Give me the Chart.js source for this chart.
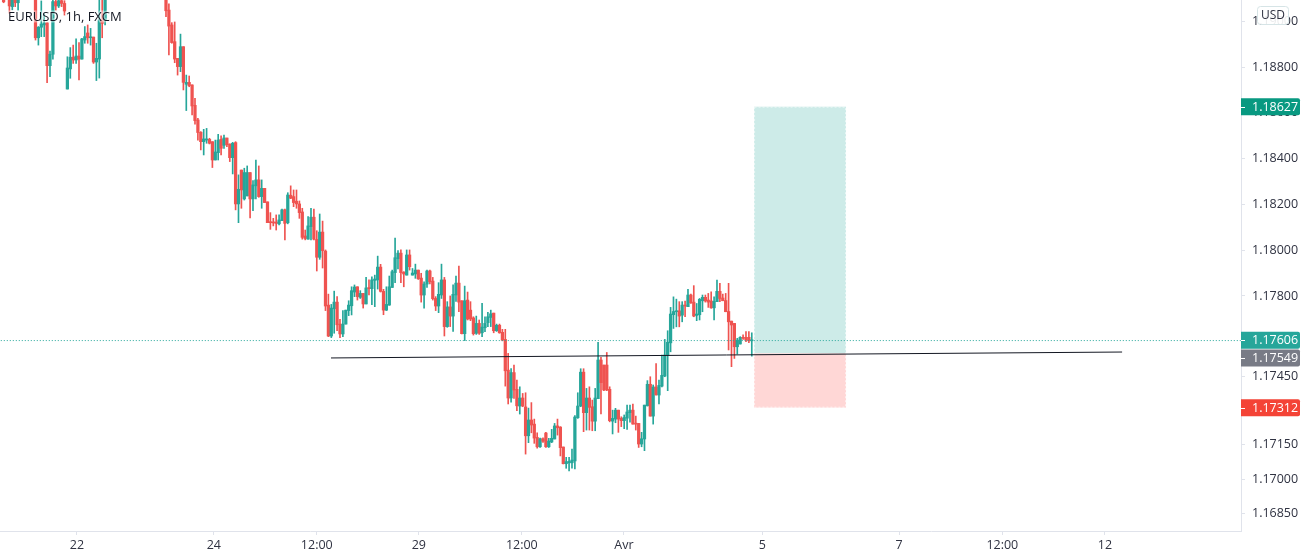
<!DOCTYPE html>
<html>
<head>
<meta charset="utf-8">
<title>EURUSD, 1h, FXCM</title>
<script src="https://cdn.jsdelivr.net/npm/chart.js@4/dist/chart.umd.min.js"></script>
<style>
  html, body { margin: 0; padding: 0; background: #fff; }
  canvas { display: block; }
</style>
</head>
<body>
<canvas id="chart" width="1305" height="559"></canvas>
<script>
// Hourly candles. null = bar is above the visible range
const opens = [
  1.19100,null,1.19110,1.19064,1.19100,1.19081,null,null,null,null,null,
  1.19110,1.18928,1.18974,1.18984,1.18993,1.18806,1.18856,1.19086,1.19067,1.19090,1.19078,
  1.18704,1.18792,1.18843,1.18831,1.18848,1.18835,1.18918,1.18949,1.18928,1.18931,1.18822,1.18835,1.19006,1.19006,
  null,null,null,null,null,null,null,null,null,null,null,null,null,null,null,null,null,null,null,null,
  1.19093,1.19049,1.18984,1.18911,1.18838,1.18802,1.18889,1.18725,1.18733,1.18722,
  1.18633,1.18569,1.18515,1.18474,1.18481,1.18484,1.18474,1.18394,1.18426,1.18484,
  1.18458,1.18490,1.18464,1.18404,1.18470,1.18202,1.18350,1.18224,1.18237,1.18339,
  1.18224,1.18281,1.18307,1.18234,1.18270,1.18211,1.18123,1.18123,1.18123,1.18115,
  1.18129,1.18176,1.18120,1.18240,1.18234,1.18214,1.18202,1.18167,1.18062,1.18048,
  1.18103,1.18144,1.18047,1.17969,1.18079,1.17996,1.17760,1.17625,1.17744,1.17773,
  1.17677,1.17634,1.17677,1.17736,1.17757,1.17817,1.17840,1.17794,1.17811,1.17765,
  1.17835,1.17832,1.17868,1.17870,1.17926,1.17820,1.17738,1.17760,1.17837,1.17902,
  1.17963,1.17987,1.17904,1.17891,1.17979,1.17891,1.17896,1.17913,1.17878,1.17804,
  1.17852,1.17909,1.17865,1.17789,1.17756,1.17804,1.17870,1.17666,1.17752,1.17712,
  1.17804,1.17856,1.17779,1.17635,1.17782,1.17738,1.17704,1.17637,1.17680,1.17639,
  1.17661,1.17683,1.17706,1.17725,1.17648,1.17672,1.17641,1.17610,1.17476,1.17354,
  1.17465,1.17392,1.17319,1.17354,1.17315,1.17189,1.17258,1.17240,1.17182,1.17141,
  1.17176,1.17201,1.17141,1.17162,1.17175,1.17232,1.17227,1.17140,1.17067,1.17071,
  1.17071,1.17079,1.17268,1.17319,1.17467,1.17290,1.17354,1.17316,1.17253,1.17351,
  1.17520,1.17498,1.17498,1.17392,1.17253,1.17262,1.17301,1.17265,1.17255,1.17266,
  1.17290,1.17301,1.17243,1.17243,1.17153,1.17175,1.17320,1.17414,1.17275,1.17402,
  1.17367,1.17406,1.17450,1.17542,1.17595,1.17718,1.17731,1.17735,1.17716,1.17760,
  1.17753,1.17804,1.17773,1.17715,1.17718,1.17779,1.17794,1.17782,1.17778,1.17748,
  1.17775,1.17820,1.17791,1.17780,1.17732,1.17690,1.17680,1.17578,1.17590,1.17619,
  1.17619,1.17619,1.17604
];
const closes = [
  1.19085,null,1.19067,1.19100,1.19081,1.19100,null,null,null,null,null,
  1.18928,1.18974,1.18988,1.18993,1.18806,1.18856,1.19086,1.19067,1.19090,1.19078,1.19045,
  1.18796,1.18843,1.18831,1.18848,1.18835,1.18923,1.18933,1.18928,1.18931,1.18822,1.18838,1.19006,1.18991,1.19100,
  null,null,null,null,null,null,null,null,null,null,null,null,null,null,null,null,null,null,null,null,
  1.19046,1.18979,1.18907,1.18835,1.18802,1.18889,1.18733,1.18733,1.18719,1.18630,
  1.18566,1.18514,1.18474,1.18486,1.18486,1.18467,1.18394,1.18429,1.18481,1.18445,
  1.18490,1.18461,1.18404,1.18467,1.18202,1.18266,1.18263,1.18339,1.18339,1.18224,
  1.18285,1.18307,1.18234,1.18270,1.18208,1.18120,1.18120,1.18119,1.18117,1.18132,
  1.18176,1.18117,1.18241,1.18227,1.18208,1.18202,1.18164,1.18056,1.18051,1.18106,
  1.18144,1.18048,1.17969,1.18079,1.17998,1.17756,1.17625,1.17747,1.17773,1.17674,
  1.17634,1.17677,1.17738,1.17760,1.17823,1.17839,1.17797,1.17811,1.17765,1.17835,
  1.17832,1.17870,1.17874,1.17926,1.17820,1.17738,1.17763,1.17840,1.17906,1.17967,
  1.17987,1.17902,1.17896,1.17979,1.17928,1.17900,1.17913,1.17875,1.17804,1.17852,
  1.17909,1.17862,1.17788,1.17756,1.17807,1.17870,1.17666,1.17752,1.17712,1.17807,
  1.17856,1.17773,1.17635,1.17779,1.17699,1.17699,1.17635,1.17680,1.17637,1.17664,
  1.17680,1.17709,1.17722,1.17648,1.17672,1.17639,1.17607,1.17473,1.17354,1.17465,
  1.17389,1.17320,1.17354,1.17319,1.17189,1.17258,1.17236,1.17179,1.17141,1.17176,
  1.17165,1.17141,1.17166,1.17178,1.17232,1.17224,1.17137,1.17067,1.17076,1.17077,
  1.17083,1.17271,1.17319,1.17467,1.17290,1.17354,1.17313,1.17253,1.17354,1.17520,
  1.17421,1.17389,1.17389,1.17255,1.17265,1.17301,1.17262,1.17255,1.17269,1.17293,
  1.17301,1.17240,1.17240,1.17153,1.17176,1.17323,1.17414,1.17275,1.17402,1.17368,
  1.17409,1.17453,1.17542,1.17598,1.17721,1.17732,1.17732,1.17712,1.17760,1.17756,
  1.17804,1.17770,1.17712,1.17721,1.17785,1.17794,1.17778,1.17773,1.17748,1.17776,
  1.17820,1.17789,1.17779,1.17731,1.17687,1.17673,1.17578,1.17607,1.17619,1.17615,
  1.17607,1.17604,1.17606
];
const highs = [
  1.19110,null,1.19120,1.19110,1.19110,1.19110,null,null,null,null,null,
  1.19120,1.18977,1.19089,1.19032,1.18993,1.18870,1.19100,1.19100,1.19105,1.19105,1.19090,
  1.18845,1.18885,1.18896,1.18923,1.18907,1.18926,1.18977,1.18984,1.18969,1.18931,1.18904,1.19093,1.19100,1.19110,
  null,null,null,null,null,null,null,null,null,null,null,null,null,null,null,null,null,null,null,null,
  1.19110,1.19076,1.18994,1.18997,1.18838,1.18944,1.18889,1.18765,1.18761,1.18722,
  1.18663,1.18576,1.18518,1.18528,1.18532,1.18489,1.18474,1.18481,1.18506,1.18499,
  1.18503,1.18490,1.18464,1.18471,1.18474,1.18329,1.18350,1.18358,1.18368,1.18339,
  1.18304,1.18394,1.18368,1.18307,1.18270,1.18211,1.18164,1.18139,1.18154,1.18154,
  1.18179,1.18179,1.18251,1.18281,1.18263,1.18263,1.18215,1.18183,1.18088,1.18147,
  1.18183,1.18179,1.18085,1.18158,1.18127,1.18001,1.17808,1.17763,1.17821,1.17797,
  1.17698,1.17736,1.17738,1.17779,1.17840,1.17848,1.17840,1.17823,1.17811,1.17881,
  1.17870,1.17884,1.17891,1.17974,1.17938,1.17829,1.17840,1.17887,1.17913,1.18053,
  1.17998,1.18001,1.17906,1.18001,1.18001,1.17920,1.17939,1.17913,1.17899,1.17862,
  1.17913,1.17913,1.17881,1.17797,1.17858,1.17939,1.17881,1.17775,1.17800,1.17848,
  1.17887,1.17931,1.17779,1.17843,1.17817,1.17775,1.17709,1.17712,1.17695,1.17768,
  1.17709,1.17728,1.17738,1.17725,1.17677,1.17677,1.17654,1.17654,1.17549,1.17483,
  1.17498,1.17432,1.17403,1.17374,1.17377,1.17310,1.17334,1.17262,1.17202,1.17179,
  1.17180,1.17204,1.17178,1.17217,1.17243,1.17262,1.17229,1.17140,1.17095,1.17095,
  1.17131,1.17277,1.17377,1.17482,1.17482,1.17396,1.17403,1.17345,1.17396,1.17597,
  1.17532,1.17498,1.17553,1.17403,1.17301,1.17309,1.17301,1.17272,1.17280,1.17323,
  1.17323,1.17328,1.17275,1.17243,1.17204,1.17323,1.17430,1.17447,1.17411,1.17505,
  1.17432,1.17542,1.17610,1.17648,1.17750,1.17796,1.17786,1.17775,1.17775,1.17778,
  1.17829,1.17808,1.17845,1.17767,1.17789,1.17804,1.17804,1.17811,1.17818,1.17796,
  1.17869,1.17855,1.17808,1.17811,1.17855,1.17690,1.17680,1.17615,1.17622,1.17630,
  1.17644,1.17644,1.17639
];
const lows = [
  1.19081,null,1.19035,1.19050,1.19064,1.19049,null,null,null,null,null,
  1.18918,1.18896,1.18933,1.18933,1.18732,1.18758,1.18835,1.19049,1.19060,1.19064,1.19027,
  1.18704,1.18751,1.18816,1.18816,1.18744,1.18835,1.18904,1.18904,1.18896,1.18816,1.18741,1.18752,1.18928,1.18984,
  null,null,null,null,null,null,null,null,null,null,null,null,null,null,null,null,null,null,null,null,
  1.19020,1.18853,1.18904,1.18819,1.18765,1.18780,1.18700,1.18610,1.18714,1.18591,
  1.18551,1.18481,1.18438,1.18416,1.18467,1.18464,1.18361,1.18394,1.18394,1.18416,
  1.18445,1.18452,1.18387,1.18333,1.18176,1.18120,1.18183,1.18219,1.18237,1.18141,
  1.18173,1.18224,1.18231,1.18183,1.18208,1.18120,1.18091,1.18106,1.18088,1.18110,
  1.18129,1.18045,1.18115,1.18225,1.18190,1.18183,1.18139,1.18048,1.18045,1.18048,
  1.18045,1.18045,1.17909,1.17960,1.17922,1.17736,1.17622,1.17618,1.17637,1.17648,
  1.17618,1.17622,1.17677,1.17714,1.17717,1.17797,1.17782,1.17789,1.17747,1.17765,
  1.17804,1.17762,1.17753,1.17830,1.17817,1.17718,1.17736,1.17759,1.17837,1.17858,
  1.17918,1.17858,1.17840,1.17891,1.17913,1.17891,1.17877,1.17872,1.17773,1.17747,
  1.17837,1.17852,1.17782,1.17736,1.17727,1.17789,1.17625,1.17663,1.17666,1.17645,
  1.17776,1.17731,1.17634,1.17605,1.17695,1.17692,1.17629,1.17632,1.17632,1.17622,
  1.17644,1.17666,1.17666,1.17639,1.17645,1.17637,1.17604,1.17406,1.17328,1.17336,
  1.17352,1.17299,1.17284,1.17316,1.17109,1.17159,1.17202,1.17156,1.17135,1.17138,
  1.17160,1.17138,1.17138,1.17159,1.17175,1.17192,1.17101,1.17066,1.17047,1.17036,
  1.17047,1.17044,1.17265,1.17316,1.17207,1.17214,1.17214,1.17211,1.17211,1.17351,
  1.17284,1.17386,1.17386,1.17250,1.17197,1.17246,1.17204,1.17229,1.17220,1.17217,
  1.17249,1.17240,1.17214,1.17138,1.17141,1.17124,1.17319,1.17275,1.17240,1.17366,
  1.17328,1.17403,1.17447,1.17386,1.17556,1.17658,1.17665,1.17665,1.17687,1.17709,
  1.17753,1.17767,1.17709,1.17692,1.17695,1.17731,1.17773,1.17750,1.17746,1.17695,
  1.17775,1.17775,1.17779,1.17731,1.17564,1.17491,1.17527,1.17546,1.17590,1.17610,
  1.17600,1.17596,1.17537
];

// axis labels
const xTickBars = [25.3, 72.5, 108, 143.2, 178.7, 213.9, 261.6, 308.8, 344.4, 379.8];
const xTickLabels = ['22', '24', '12:00', '29', '12:00', 'Avr', '5', '7', '12:00', '12'];
const yTicks = [1.1685, 1.17, 1.1715, 1.1745, 1.178, 1.18, 1.182, 1.184, 1.186, 1.188, 1.19];

// long position drawing and horizontal lines
const positionBars = [258.8, 290.5];
const entryPrice = 1.17549;
const targetPrice = 1.18627;
const stopPrice = 1.17312;
const lastPrice = 1.17606;
const trendBars = [112.9, 385.7];
const trendPrices = [1.17529, 1.17555];

const GREEN = '#26a69a';
const RED = '#ef5350';
const FONT = '"Open Sans", sans-serif';

const bodies = [], bodyColors = [], wicks = [], wickColors = [];
opens.forEach(function(open, i) {
    if (open === null) return;
    const color = closes[i] >= open ? GREEN : RED;
    bodies.push({ x: i, y: [open, closes[i]] });
    bodyColors.push(color);
    wicks.push({ x: i, y: [lows[i], highs[i]] });
    wickColors.push(color);
});

// Green / red box behind the candles
const positionBox = {
    id: 'positionBox',
    beforeDatasetsDraw(chart) {
        const { ctx, scales: { x, y } } = chart;
        const left = x.getPixelForValue(positionBars[0]);
        const right = x.getPixelForValue(positionBars[1]);
        const entry = y.getPixelForValue(entryPrice);
        const target = y.getPixelForValue(targetPrice);
        const stop = y.getPixelForValue(stopPrice);
        ctx.save();
        ctx.fillStyle = '#cdebe8';
        ctx.fillRect(left, target, right - left, entry - target);
        ctx.fillStyle = '#ffd7d6';
        ctx.fillRect(left, entry, right - left, stop - entry);
        ctx.strokeStyle = 'rgba(255,255,255,0.6)';
        ctx.setLineDash([2, 2]);
        ctx.strokeRect(left + 0.5, target + 0.5, right - left - 1, stop - target - 1);
        ctx.restore();
    }
};

// Title, price badges and currency box on top of everything
const overlays = {
    id: 'overlays',
    afterDraw(chart) {
        const { ctx, scales: { y } } = chart;
        const axisX = chart.chartArea.right;
        ctx.save();

        ctx.font = '13px ' + FONT;
        ctx.textAlign = 'left';
        ctx.textBaseline = 'middle';
        ctx.lineWidth = 3;
        ctx.strokeStyle = 'rgba(255,255,255,0.45)';
        ctx.strokeText('EURUSD, 1h, FXCM', 8, 17);
        ctx.fillStyle = '#131722';
        ctx.fillText('EURUSD, 1h, FXCM', 8, 17);

        const badges = [
            { price: targetPrice, color: '#089981', shift: 0 },
            { price: lastPrice, color: GREEN, shift: 0 },
            { price: entryPrice, color: '#787b86', shift: 4.7 },
            { price: stopPrice, color: '#f44336', shift: 0 }
        ];
        badges.forEach(function(b) {
            const cy = y.getPixelForValue(b.price) + b.shift;
            ctx.fillStyle = b.color;
            ctx.beginPath();
            ctx.roundRect(axisX, cy - 8.5, 59, 17, [0, 2, 2, 0]);
            ctx.fill();
            ctx.fillStyle = '#fff';
            ctx.fillRect(axisX, Math.round(cy), 4, 1);
            ctx.font = '12.5px ' + FONT;
            ctx.textAlign = 'left';
            ctx.fillText(b.price.toFixed(5), axisX + 11, cy + 0.5);
        });

        ctx.fillStyle = 'rgba(255,255,255,0.9)';
        ctx.strokeStyle = '#d6e4e6';
        ctx.lineWidth = 1;
        ctx.beginPath();
        ctx.roundRect(1257.5, 6.5, 31, 18, 3);
        ctx.fill();
        ctx.stroke();
        ctx.fillStyle = '#2f3241';
        ctx.font = '12px ' + FONT;
        ctx.textAlign = 'center';
        ctx.fillText('USD', 1273, 15.5);
        ctx.restore();
    }
};

new Chart(document.getElementById('chart').getContext('2d'), {
    data: {
        datasets: [
            {
                type: 'line',
                data: [{ x: -2, y: 1.17605 }, { x: 428, y: 1.17605 }],
                borderColor: GREEN,
                borderWidth: 1,
                borderDash: [1, 2],
                pointRadius: 0,
                order: 2
            },
            {
                type: 'line',
                data: [
                    { x: trendBars[0], y: trendPrices[0] },
                    { x: trendBars[1], y: trendPrices[1] }
                ],
                borderColor: '#131722',
                borderWidth: 1,
                pointRadius: 0,
                order: 1
            },
            {
                type: 'bar',
                data: wicks,
                backgroundColor: wickColors,
                barThickness: 1,
                grouped: false,
                order: 4
            },
            {
                type: 'bar',
                data: bodies,
                backgroundColor: bodyColors,
                barThickness: 2.6,
                minBarLength: 1,
                grouped: false,
                order: 3
            }
        ]
    },
    options: {
        responsive: false,
        animation: false,
        events: [],
        layout: { padding: 0 },
        plugins: { legend: { display: false }, tooltip: { enabled: false } },
        scales: {
            x: {
                type: 'linear',
                offset: false,
                min: -1.24,
                max: 426.7,
                grid: { offset: false, drawOnChartArea: false, color: '#e0e3eb', tickLength: 4 },
                border: { color: '#e0e3eb' },
                afterBuildTicks(scale) { scale.ticks = xTickBars.map(v => ({ value: v })); },
                afterFit(scale) {
                    scale.height = 28;
                    scale.paddingLeft = 0;
                    scale.paddingRight = 0;
                },
                ticks: {
                    autoSkip: false,
                    maxRotation: 0,
                    padding: 3,
                    color: '#2f3241',
                    font: { family: FONT, size: 12.5 },
                    callback: (value, index) => xTickLabels[index]
                }
            },
            y: {
                position: 'right',
                min: 1.16773,
                max: 1.19093,
                grid: { drawOnChartArea: false, color: '#e0e3eb', tickLength: 4 },
                border: { color: '#e0e3eb' },
                afterBuildTicks(scale) { scale.ticks = yTicks.map(v => ({ value: v })); },
                afterFit(scale) {
                    // no room for half a tick label above the pane
                    scale.width = 64;
                    scale.paddingTop = 0;
                    scale.paddingBottom = 0;
                },
                ticks: {
                    padding: 7,
                    color: '#2f3241',
                    font: { family: FONT, size: 12.5 },
                    callback: value => value.toFixed(5)
                }
            }
        }
    },
    plugins: [positionBox, overlays]
});
</script>
</body>
</html>
